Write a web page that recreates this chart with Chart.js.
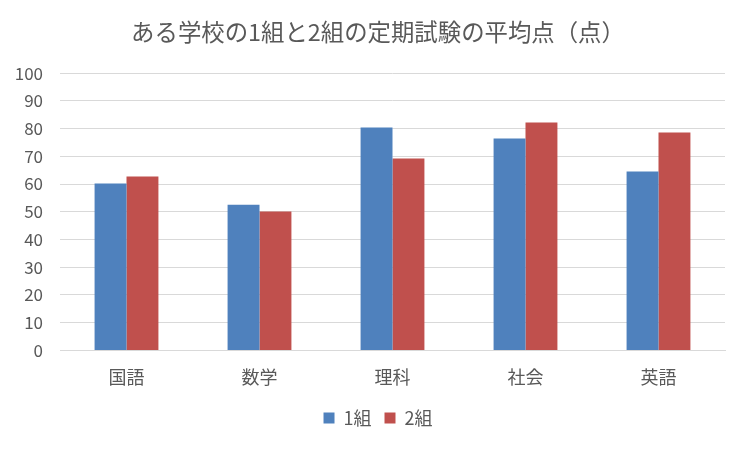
<!DOCTYPE html>
<html>
<head>
<meta charset="utf-8">
<script src="https://cdn.jsdelivr.net/npm/chart.js@4"></script>
<style>
  html, body { margin: 0; padding: 0; background: #fff; }
  #wrap { width: 751px; height: 451px; }
</style>
</head>
<body>
<div id="wrap"><canvas id="mainChart"></canvas></div>
<script>
const main = document.getElementById("mainChart");

let subjects = ["国語", "数学", "理科", "社会", "英語"];
let class1 = [60.2, 52.5, 80.4, 76.4, 64.5];
let class2 = [62.7, 50.1, 69.2, 82.2, 78.6];
let seriesNames = ["1組", "2組"];
let barColors = ["#4F81BD", "#C0504D"];

const font = "'Noto Sans CJK JP', 'Noto Sans', sans-serif";
const textColor = "#595959";

// y tick labels sit partly inside the left padding, so don't clip them to the scale box
const unclipY = {
    id: "unclipY",
    afterLayout(chart) { chart.scales.y.left = 0; }
};

new Chart(main, {
    type: "bar",
    data: {
        labels: subjects,
        datasets: [{
            label: seriesNames[0],
            backgroundColor: barColors[0],
            data: class1
        }, {
            label: seriesNames[1],
            backgroundColor: barColors[1],
            data: class2
        }]
    },
    options: {
        responsive: true,
        maintainAspectRatio: false,
        animation: false,
        layout: { padding: { left: 31, right: 26, top: 18, bottom: 14 } },
        datasets: {
            bar: { categoryPercentage: 0.48, barPercentage: 1.0 }
        },
        plugins: {
            title: {
                display: true,
                text: "ある学校の1組と2組の定期試験の平均点（点）",
                color: textColor,
                font: { family: font, size: 23.4, weight: "normal" },
                padding: { top: 0, bottom: 27 }
            },
            legend: {
                position: "bottom",
                labels: {
                    color: textColor,
                    font: { family: font, size: 18 },
                    boxWidth: 11,
                    boxHeight: 11,
                    padding: 13
                }
            },
            tooltip: { enabled: false }
        },
        scales: {
            x: {
                grid: { display: false },
                border: { color: "#D9D9D9" },
                ticks: { color: textColor, font: { family: font, size: 18, lineHeight: 1.09 }, padding: 9 }
            },
            y: {
                min: 0,
                max: 100,
                afterFit: (scale) => { scale.width = 29; },
                ticks: { stepSize: 10, color: textColor, font: { family: font, size: 17 }, padding: 17 },
                grid: { color: "#D9D9D9", drawTicks: false },
                border: { display: false }
            }
        }
    },
    plugins: [unclipY]
});
</script>
</body>
</html>
